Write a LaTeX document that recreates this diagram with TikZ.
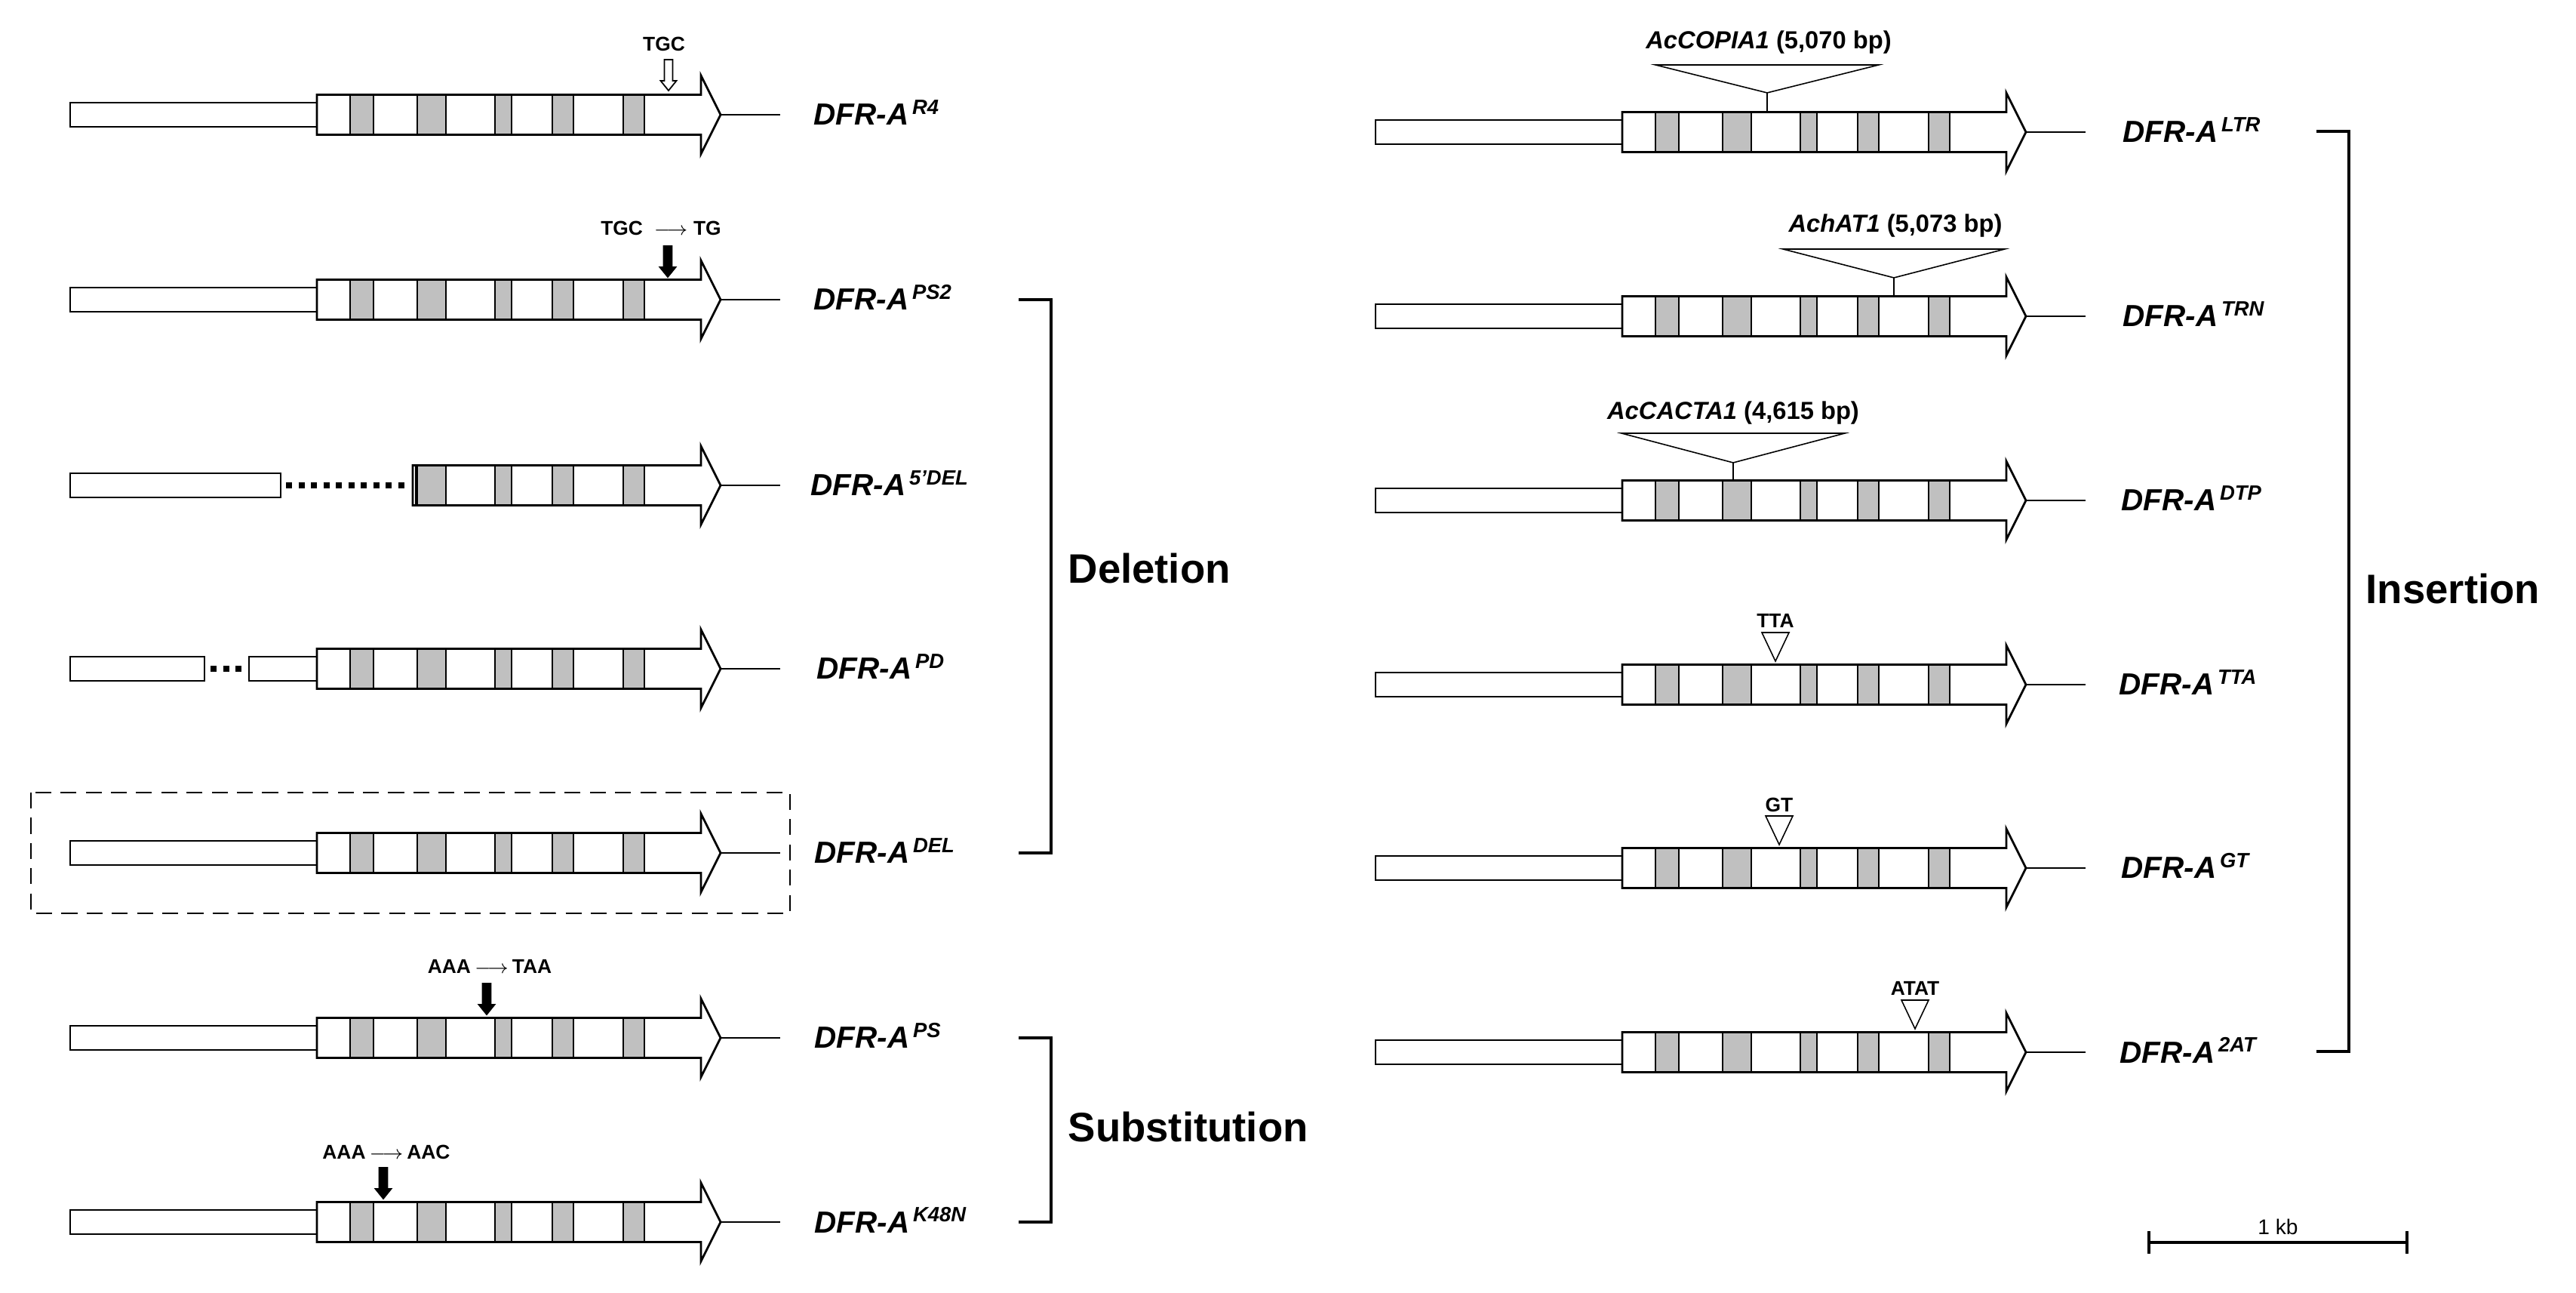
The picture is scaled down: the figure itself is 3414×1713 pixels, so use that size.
\documentclass[tikz,border=0pt]{standalone}
\usepackage{fontspec}
\setmainfont{Liberation Sans}
\usetikzlibrary{positioning}
\definecolor{exongray}{RGB}{192,192,192}

% allele name with raised tag
\newcommand{\allele}[1]{DFR-A\raisebox{4.2pt}{\fontsize{7.8}{8}\selectfont\,#1}}
% coding part of a gene model: [exons]{x shift}{y}{left end}
\newcommand{\genebody}[4][464/495,553/591,656/678,732/760,826/854]{%
  \begin{scope}[shift={(#2,#3)}]
    \draw[cds] (#4,-26.5) -- (929,-26.5) -- (929,-52) -- (955,0)
      -- (929,52) -- (929,26.5) -- (#4,26.5) -- cycle;
    \foreach \a/\b in {#1} \draw[exon] (\a,-26.5) rectangle (\b,26.5);
    \draw[utr] (955,0) -- (1034,0);
  \end{scope}}
% promoter box: {x shift}{y}{from}{to}
\newcommand{\promoter}[4]{\draw[prom, shift={(#1,#2)}] (#3,-16) rectangle (#4,16);}
% block arrow pointing down: {x}{top}{fill}
\newcommand{\mutarrow}[3]{%
  \draw[fill=#3, line width=0.5pt, shift={(#1,#2)}] (-5.5,0) -- (5.5,0) -- (5.5,28)
    -- (10.5,28) -- (0,41) -- (-10.5,28) -- (-5.5,28) -- cycle;}
% insertion wedge: {apex x}{top y}{half width}{apex y}{stem end}
\newcommand{\tetri}[5]{%
  \draw[ins] (#1-#3,#2) -- (#1+#3,#2) -- (#1,#4) -- cycle;
  \draw[ins] (#1,#4) -- (#1,#5);}

\begin{document}
\begin{tikzpicture}[x=0.01cm, y=-0.01cm,
  cds/.style={draw, fill=white, line width=0.8pt},
  exon/.style={draw, fill=exongray, line width=0.6pt},
  utr/.style={line width=0.6pt},
  prom/.style={draw, fill=white, line width=0.8pt},
  gap/.style={line width=2pt, dash pattern=on 2.3pt off 2.4pt},
  dashbox/.style={line width=0.6pt, dash pattern=on 6pt off 3.5pt},
  ins/.style={draw, fill=white, line width=0.45pt},
  brk/.style={line width=1.1pt},
  varlbl/.style={anchor=base west, inner sep=0pt,
                 font=\fontsize{11.5}{13}\selectfont\bfseries\itshape},
  mut/.style={inner sep=0pt, font=\fontsize{7.5}{9}\selectfont\bfseries},
  te/.style={inner sep=0pt, font=\fontsize{9.3}{11}\selectfont\bfseries},
  cat/.style={anchor=base west, inner sep=0pt, font=\fontsize{15.5}{18}\selectfont\bfseries},
  scl/.style={inner sep=0pt, font=\fontsize{8}{9}\selectfont}
]
\useasboundingbox (0,0) rectangle (3414,1713);

% left column
\foreach \y in {152,397,1130,1375,1619}{
  \promoter{0}{\y}{93}{420}
  \genebody{0}{\y}{420}
}
\promoter{0}{643}{93}{372}
\draw[gap] (379,643) -- (537,643);
\genebody[553/591,656/678,732/760,826/854]{0}{643}{547}
\draw[line width=0.4pt] (551,616.5) -- (551,669.5);
\promoter{0}{886}{93}{271}
\draw[gap] (279,886) -- (324,886);
\promoter{0}{886}{330}{420}
\genebody{0}{886}{420}
\draw[dashbox] (41,1050) rectangle (1047,1210);

\mutarrow{886}{79}{white}
\node[mut] (tgc) at (880,58) {TGC};
\mutarrow{885}{326}{black}
\node[mut] (tgctg) at (876,302) {TGC\ \ $\longrightarrow$\ TG};
\mutarrow{645}{1303}{black}
\node[mut] (aaataa) at (649,1280) {AAA$\,\longrightarrow\,$TAA};
\mutarrow{508}{1547}{black}
\node[mut] (aaaaac) at (512,1526) {AAA$\,\longrightarrow\,$AAC};

\node[varlbl] (r4)   at (1078,166)  {\allele{R4}};
\node[varlbl] (ps2)  at (1078,411)  {\allele{PS2}};
\node[varlbl] (del5) at (1074,657)  {\allele{5'DEL}};
\node[varlbl] (pd)   at (1082,900)  {\allele{PD}};
\node[varlbl] (del)  at (1079,1144) {\allele{DEL}};
\node[varlbl] (ps)   at (1079,1389) {\allele{PS}};
\node[varlbl] (k48n) at (1079,1633) {\allele{K48N}};

\coordinate (delT) at (1350,397);
\coordinate (delB) at (1350,1130);
\draw[brk] (delT) -- ++(43,0) |- (delB);
\node[cat] (deletion) at (1415,773) {Deletion};
\coordinate (subT) at (1350,1375);
\coordinate (subB) at (1350,1619);
\draw[brk] (subT) -- ++(43,0) |- (subB);
\node[cat] (substitution) at (1415,1512) {Substitution};

% right column
\foreach \y in {175,419,663,907,1150,1394}{
  \promoter{1730}{\y}{93}{420}
  \genebody{1730}{\y}{420}
}
\tetri{2342}{86}{148}{123}{148.5}
\node[te] (copia) at (2344,56) {\textit{AcCOPIA1} (5,070 bp)};
\tetri{2510}{330}{147}{368}{392.5}
\node[te] (hat) at (2512,299) {\textit{AchAT1} (5,073 bp)};
\tetri{2297}{574}{148}{613}{636.5}
\node[te] (cacta) at (2297,547) {\textit{AcCACTA1} (4,615 bp)};
\tetri{2353}{838}{18}{876}{876}
\node[mut] (tta) at (2353,822) {TTA};
\tetri{2358}{1081}{18}{1119}{1119}
\node[mut] (gt) at (2358,1066) {GT};
\tetri{2538}{1325}{18}{1363}{1363}
\node[mut] (atat) at (2538,1309) {ATAT};

\node[varlbl] (ltr) at (2813,189)  {\allele{LTR}};
\node[varlbl] (trn) at (2813,433)  {\allele{TRN}};
\node[varlbl] (dtp) at (2811,677)  {\allele{DTP}};
\node[varlbl] (ttal) at (2808,921) {\allele{TTA}};
\node[varlbl] (gtl) at (2811,1164) {\allele{GT}};
\node[varlbl] (at2) at (2809,1408) {\allele{2AT}};

\coordinate (insT) at (3070,174);
\coordinate (insB) at (3070,1393);
\draw[brk] (insT) -- ++(43,0) |- (insB);
\node[cat] (insertion) at (3135,800) {Insertion};

% scale bar
\coordinate (sbL) at (2848,1646);
\coordinate (sbR) at (3190,1646);
\draw[brk] (sbL) -- (sbR);
\draw[brk] (sbL) ++(0,-15) -- ++(0,30);
\draw[brk] (sbR) ++(0,-15) -- ++(0,30);
\node[scl, anchor=base] (kb) at (3019,1635) {1 kb};
\end{tikzpicture}
\end{document}
